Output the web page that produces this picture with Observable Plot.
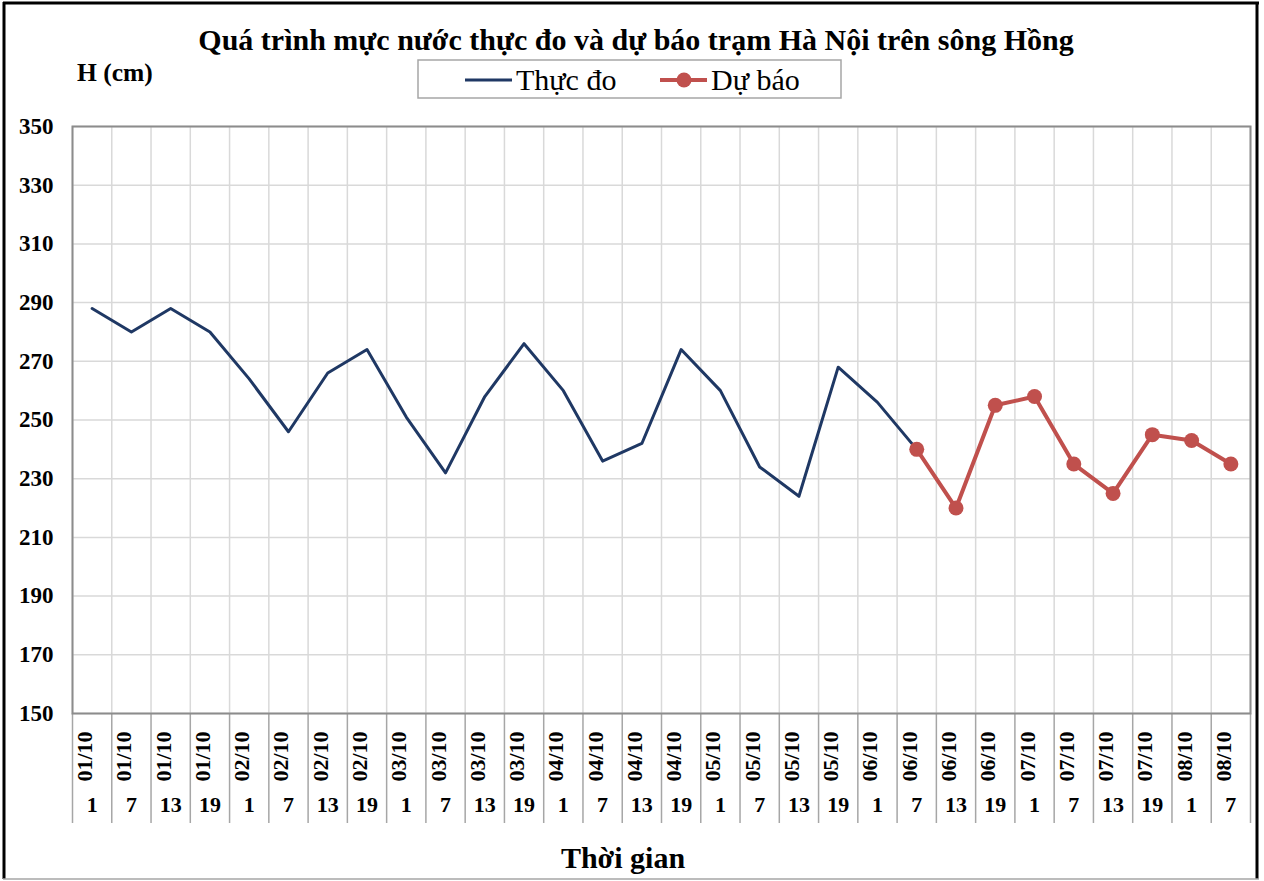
<!DOCTYPE html>
<html>
<head>
<meta charset="utf-8">
<script src="https://cdn.jsdelivr.net/npm/d3@7"></script>
<script src="https://cdn.jsdelivr.net/npm/@observablehq/plot@0.6"></script>
<style>
  html, body { margin: 0; padding: 0; background: white; }
  #chart svg { display: block; }
</style>
</head>
<body>
<div id="chart"></div>
<script>
const dates = ["01/10","01/10","01/10","01/10","02/10","02/10","02/10","02/10",
               "03/10","03/10","03/10","03/10","04/10","04/10","04/10","04/10",
               "05/10","05/10","05/10","05/10","06/10","06/10","06/10","06/10",
               "07/10","07/10","07/10","07/10","08/10","08/10"];
const hours = [1,7,13,19,1,7,13,19,1,7,13,19,1,7,13,19,1,7,13,19,1,7,13,19,1,7,13,19,1,7];
const observed = [288,280,288,280,264,246,266,274,251,232,258,276,260,236,242,274,260,234,224,268,256,240];
const forecast = [240,220,255,258,235,225,245,243,235];
const forecastStart = 21;
const yTicks = [150,170,190,210,230,250,270,290,310,330,350];

const titleText = "Quá trình mực nước thực đo và dự báo trạm Hà Nội trên sông Hồng";
const yLabel = "H (cm)";
const xLabel = "Thời gian";
const seriesNames = ["Thực đo", "Dự báo"];
const colors = ["#1f3864", "#c0504d"];

const idx = d3.range(dates.length);
const obsData = observed.map((v, i) => ({i, v}));
const fcData = forecast.map((v, k) => ({i: k + forecastStart, v}));
const bounds = d3.range(dates.length + 1).map(k => k - 0.5);

const font = "'Liberation Serif', 'Times New Roman', serif";

const svg = Plot.plot({
  width: 1264,
  height: 881,
  marginLeft: 72,
  marginRight: 14,
  marginTop: 126,
  marginBottom: 168,
  style: {fontFamily: font, background: "white", color: "black"},
  x: {type: "linear", domain: [-0.5, dates.length - 0.5], axis: null},
  y: {domain: [150, 350], axis: null},
  marks: [
    Plot.ruleY(yTicks, {stroke: "#d9d9d9", strokeWidth: 1.5}),
    Plot.ruleX(bounds, {stroke: "#d9d9d9", strokeWidth: 1.5}),
    Plot.axisX(bounds, {tickSize: 110, tickFormat: () => "", stroke: "#a6a6a6", strokeWidth: 1.5, label: null}),
    Plot.axisY(yTicks, {tickSize: 0, tickPadding: 19, fontSize: 23, fontWeight: "bold", label: null, fill: "black"}),
    Plot.frame({stroke: "#8c8c8c", strokeWidth: 2}),
    Plot.line(obsData, {x: "i", y: "v", stroke: colors[0], strokeWidth: 3}),
    Plot.line(fcData, {x: "i", y: "v", stroke: colors[1], strokeWidth: 4}),
    Plot.dot(fcData, {x: "i", y: "v", r: 7.5, fill: colors[1], stroke: "none"}),
    Plot.text(idx, {x: d => d, frameAnchor: "bottom", text: d => dates[d], rotate: -90, dy: 43, fontSize: 22, fontWeight: "bold", fill: "black"}),
    Plot.text(idx, {x: d => d, frameAnchor: "bottom", text: d => String(hours[d]), dy: 98, fontSize: 22, fontWeight: "bold", fill: "black"})
  ]
});

document.getElementById("chart").appendChild(svg);

const s = d3.select(svg);
// outer border
s.append("line").attr("x1", 3).attr("y1", 3).attr("x2", 1259).attr("y2", 3).attr("stroke", "black").attr("stroke-width", 3);
s.append("line").attr("x1", 4).attr("y1", 2).attr("x2", 4).attr("y2", 879).attr("stroke", "black").attr("stroke-width", 3);
s.append("line").attr("x1", 1257).attr("y1", 2).attr("x2", 1257).attr("y2", 879).attr("stroke", "black").attr("stroke-width", 3);
s.append("line").attr("x1", 3).attr("y1", 879).attr("x2", 1259).attr("y2", 879).attr("stroke", "#a6a6a6").attr("stroke-width", 1.5);

// title
s.append("text").attr("x", 636).attr("y", 50).attr("text-anchor", "middle")
  .attr("font-family", font).attr("font-weight", "bold").attr("font-size", 30).attr("fill", "black").text(titleText);
// y label
s.append("text").attr("x", 77).attr("y", 81).attr("text-anchor", "start")
  .attr("font-family", font).attr("font-weight", "bold").attr("font-size", 25.5).attr("fill", "black").text(yLabel);
// x label
s.append("text").attr("x", 623).attr("y", 868).attr("text-anchor", "middle")
  .attr("font-family", font).attr("font-weight", "bold").attr("font-size", 30).attr("fill", "black").text(xLabel);

// legend
const lg = s.append("g");
lg.append("rect").attr("x", 418).attr("y", 60).attr("width", 423).attr("height", 38)
  .attr("fill", "white").attr("stroke", "#a6a6a6").attr("stroke-width", 1.5);
lg.append("line").attr("x1", 465).attr("x2", 512).attr("y1", 80).attr("y2", 80).attr("stroke", colors[0]).attr("stroke-width", 3);
lg.append("text").attr("x", 516).attr("y", 90).attr("text-anchor", "start").attr("font-family", font).attr("font-size", 30).attr("fill", "black").text(seriesNames[0]);
lg.append("line").attr("x1", 660).attr("x2", 707).attr("y1", 80).attr("y2", 80).attr("stroke", colors[1]).attr("stroke-width", 4);
lg.append("circle").attr("cx", 684).attr("cy", 80).attr("r", 7.5).attr("fill", colors[1]);
lg.append("text").attr("x", 711).attr("y", 90).attr("text-anchor", "start").attr("font-family", font).attr("font-size", 30).attr("fill", "black").text(seriesNames[1]);
</script>
</body>
</html>
